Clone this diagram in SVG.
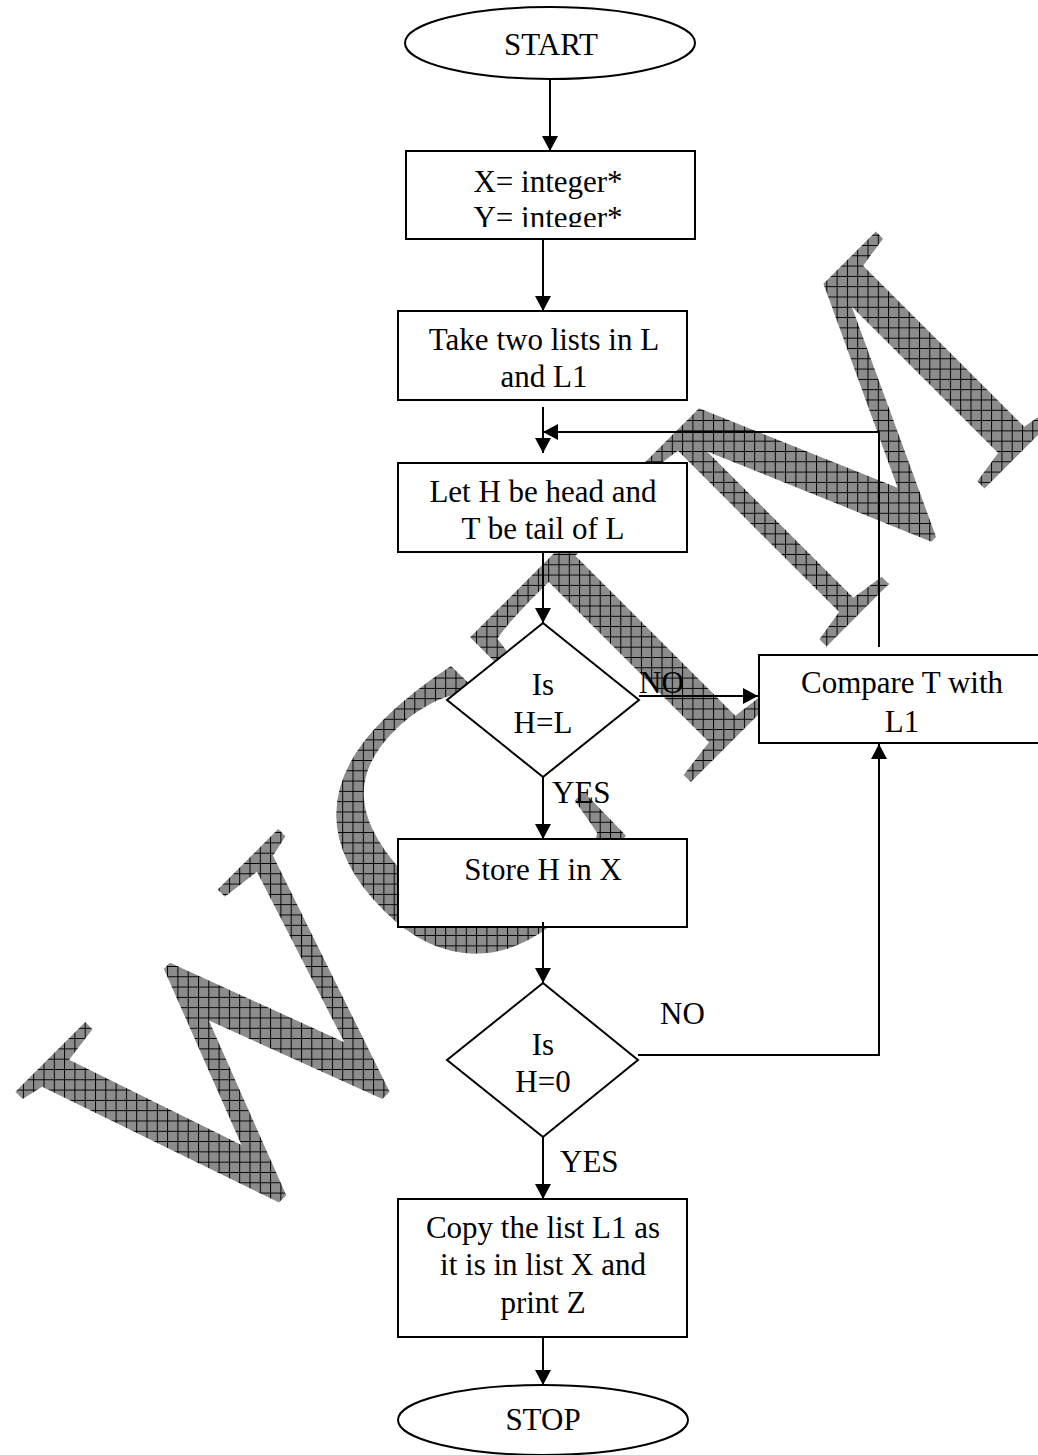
<svg xmlns="http://www.w3.org/2000/svg" width="1038" height="1455" viewBox="0 0 1038 1455">
<defs>
<style>
.shape{fill:#fff;stroke:#000;stroke-width:2}
.t{font-family:"Liberation Serif","Times New Roman",serif;font-size:31px;fill:#000}
.c{text-anchor:middle}
.conn{fill:none;stroke:#000;stroke-width:2}
</style>
<marker id="arr" markerUnits="userSpaceOnUse" viewBox="0 0 15 16" markerWidth="15" markerHeight="16" refX="15" refY="8" orient="auto">
<path d="M0,0 L15,8 L0,16 Z" fill="#000"/>
</marker>
<pattern id="hatch" patternUnits="userSpaceOnUse" width="10.3" height="10.3" patternTransform="rotate(45)">
<rect width="10.3" height="10.3" fill="#8c8c8c"/>
<path d="M0,0.5H10.3M0.5,0V10.3" stroke="#000" stroke-width="1"/>
</pattern>
<clipPath id="clip1"><rect x="406" y="151" width="289" height="76"/></clipPath>
</defs>
<rect width="1038" height="1455" fill="#fff"/>
<g id="watermark">
<text x="0" y="0" transform="translate(198,1275) rotate(-45)" font-family="Liberation Serif, serif" font-size="395" fill="url(#hatch)">WCTM</text>
</g>
<g id="start"><ellipse class="shape" cx="550" cy="43" rx="145" ry="36"/><text class="t c" x="551" y="55">START</text></g>
<g id="init"><rect class="shape" x="406" y="151" width="289" height="88"/><g clip-path="url(#clip1)"><text class="t c" x="548" y="192">X= integer*</text><text class="t c" x="548" y="228">Y= integer*</text></g></g>
<g id="take"><rect class="shape" x="398" y="311" width="289" height="89"/><text class="t c" x="544" y="350">Take two lists in L</text><text class="t c" x="544" y="387">and L1</text></g>
<g id="let"><rect class="shape" x="398" y="463" width="289" height="89"/><text class="t c" x="543" y="502">Let H be head and</text><text class="t c" x="543" y="539">T be tail of L</text></g>
<g id="dec1"><polygon class="shape" points="543,623 639,700 543,777 447,700"/><text class="t c" x="543" y="695">Is</text><text class="t c" x="543" y="733">H=L</text></g>
<g id="compare"><rect class="shape" x="759" y="655" width="280" height="88"/><text class="t c" x="902" y="693">Compare T with</text><text class="t c" x="902" y="732">L1</text></g>
<g id="store"><rect class="shape" x="398" y="839" width="289" height="88"/><text class="t c" x="543" y="880">Store H in X</text></g>
<g id="dec2"><polygon class="shape" points="543,983 638,1060 543,1137 447,1060"/><text class="t c" x="543" y="1055">Is</text><text class="t c" x="543" y="1092">H=0</text></g>
<g id="copy"><rect class="shape" x="398" y="1199" width="289" height="138"/><text class="t c" x="543" y="1238">Copy the list L1 as</text><text class="t c" x="543" y="1275">it is in list X and</text><text class="t c" x="543" y="1313">print Z</text></g>
<g id="stop"><ellipse class="shape" cx="543" cy="1420" rx="145" ry="35"/><text class="t c" x="543" y="1430">STOP</text></g>
<g id="connectors">
<path class="conn" d="M550,79 V151" marker-end="url(#arr)"/>
<path class="conn" d="M543,239 V311" marker-end="url(#arr)"/>
<path class="conn" d="M543,407 V453" marker-end="url(#arr)"/>
<path class="conn" d="M879,647 V432 H543" marker-end="url(#arr)"/>
<path class="conn" d="M543,552 V623" marker-end="url(#arr)"/>
<path class="conn" d="M639,696 H758" marker-end="url(#arr)"/>
<path class="conn" d="M543,777 V839" marker-end="url(#arr)"/>
<path class="conn" d="M543,922 V983" marker-end="url(#arr)"/>
<path class="conn" d="M638,1055 H879 V744" marker-end="url(#arr)"/>
<path class="conn" d="M543,1137 V1199" marker-end="url(#arr)"/>
<path class="conn" d="M543,1337 V1385" marker-end="url(#arr)"/>
</g>
<g id="labels">
<text class="t" x="639" y="693">NO</text>
<text class="t" x="552" y="803">YES</text>
<text class="t" x="660" y="1024">NO</text>
<text class="t" x="560" y="1172">YES</text>
</g>
</svg>
